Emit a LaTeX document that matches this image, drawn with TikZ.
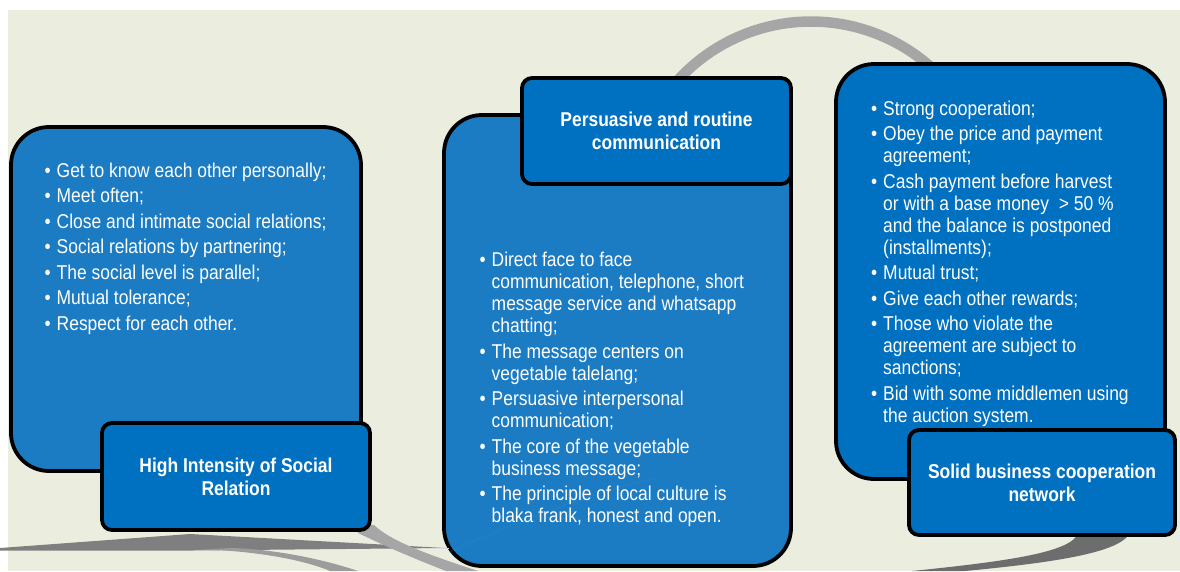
\documentclass[tikz,border=0pt]{standalone}
\usepackage{fontspec}
\setmainfont{Liberation Sans}[FakeStretch=0.873]
\definecolor{bgc}{HTML}{EBEEDF}
\definecolor{boxlight}{HTML}{1B7BC3}
\definecolor{boxdark}{HTML}{0070C0}
\definecolor{arcgray}{HTML}{A6A6A6}
\definecolor{wedgegray}{HTML}{7F7F7F}
\definecolor{bandgray}{HTML}{9C9C9C}
\definecolor{cresgray}{HTML}{6D6D6D}
\newcommand\bfirst[1]{\noindent\hangindent=12pt\hangafter=1\makebox[12pt][l]{\textbullet}#1}
\newcommand\bnext[1]{\par\vspace{3.5pt}\bfirst{#1}}
\newcommand\nl{\newline}
\begin{document}
\begin{tikzpicture}[x=1pt,y=-1pt,
  outerbox/.style={draw=black, line width=3.8pt, rounded corners=38pt, inner sep=0pt},
  labelbox/.style={draw=black, line width=3.8pt, rounded corners=10pt, fill=boxdark,
    text=white, font=\bfseries\fontsize{20}{23}\selectfont, align=center, inner sep=0pt},
  listtext/.style={anchor=base west, inner sep=0pt, text=white, font=\fontsize{20}{22}\selectfont}]
\useasboundingbox (0,0) rectangle (1180,571);
\clip (0,0) rectangle (1180,571);
\fill[bgc] (8,10) rectangle (1180,571);
% top grey arc
\draw[arcgray, line width=10.5pt] plot[domain=215:322, samples=90] ({811+180.5*cos(\x)},{202+180.5*sin(\x)});
% bottom grey swooshes
\fill[wedgegray] (0,548) -- (190,534) -- (445,548) -- (193,550.5) -- (0,550.5) -- cycle;
\fill[bandgray] (196,550) .. controls (240,549) and (300,558) .. (330,571) -- (358,571) .. controls (320,558) and (270,549) .. (232,548) -- cycle;
\fill[arcgray] (358,525) -- (374,525) .. controls (390,540) and (420,552) .. (478,571) -- (446,571) .. controls (410,557) and (385,546) .. (358,533) -- cycle;
\fill[cresgray] (1078,533) .. controls (1072,552) and (1010,561) .. (912,571) -- (965,571) .. controls (1060,562) and (1120,552) .. (1130,533) -- cycle;
% outer boxes
\node[outerbox, fill=boxlight, minimum width=350pt, minimum height=344pt] (Lbox) at (186,299) {};
\node[outerbox, fill=boxlight, minimum width=347pt, minimum height=451pt] (Mbox) at (617.5,340.5) {};
\node[outerbox, fill=boxdark, minimum width=329pt, minimum height=415pt] (Rbox) at (1000.5,271.5) {};
% faint highlight in the middle box
\draw[line width=2pt, color=boxlight!85!white, opacity=.18] (449,552) .. controls (515,522) and (600,490) .. (656,478);
% label boxes
\node[labelbox, minimum width=268pt, minimum height=107pt] (Llab) at (236,476.5) {High Intensity of Social\\Relation};
\node[labelbox, minimum width=269pt, minimum height=106pt] (Mlab) at (656.5,131) {Persuasive and routine\\communication};
\node[labelbox, minimum width=266pt, minimum height=105pt] (Rlab) at (1042,482.5) {Solid business cooperation\\network};
% thin light tip
\draw[line width=1pt, color=black!15] (425,548) -- (449,548);
% bullet texts
\node[listtext] (Ltext) at (44.5,177.3) {\parbox[t]{320pt}{\raggedright
  \bfirst{Get to know each other personally;}
  \bnext{Meet often;}
  \bnext{Close and intimate social relations;}
  \bnext{Social relations by partnering;}
  \bnext{The social level is parallel;}
  \bnext{Mutual tolerance;}
  \bnext{Respect for each other.}}};
\node[listtext] (Mtext) at (479.5,266.7) {\parbox[t]{320pt}{\raggedright
  \bfirst{Direct face to face\nl communication, telephone, short\nl message service and whatsapp\nl chatting;}
  \bnext{The message centers on\nl vegetable talelang;}
  \bnext{Persuasive interpersonal\nl communication;}
  \bnext{The core of the vegetable\nl business message;}
  \bnext{The principle of local culture is\nl blaka frank, honest and open.}}};
\node[listtext] (Rtext) at (871,115) {\parbox[t]{320pt}{\raggedright
  \bfirst{Strong cooperation;}
  \bnext{Obey the price and payment\nl agreement;}
  \bnext{Cash payment before harvest\nl or with a base money\ \ > 50 \%\nl and the balance is postponed\nl (installments);}
  \bnext{Mutual trust;}
  \bnext{Give each other rewards;}
  \bnext{Those who violate the\nl agreement are subject to\nl sanctions;}
  \bnext{Bid with some middlemen using\nl the auction system.}}};
\end{tikzpicture}
\end{document}
